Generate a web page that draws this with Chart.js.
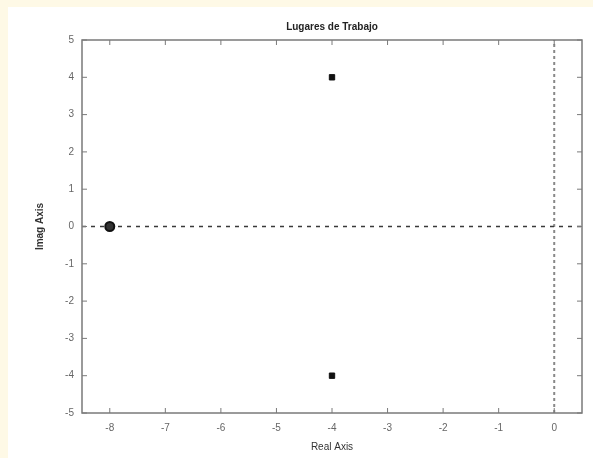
<!DOCTYPE html>
<html>
<head>
<meta charset="utf-8">
<script src="https://cdn.jsdelivr.net/npm/chart.js@4.4.1/dist/chart.umd.min.js"></script>
<style>
    html, body { margin: 0; padding: 0; background: #fef9e6; }
    #marco { position: absolute; left: 8px; top: 7px; width: 585px; height: 451px; background: #ffffff; }
</style>
</head>
<body>
<div id="marco"><canvas id="lugares-chart" width="585" height="451"></canvas></div>
<script>
// limites de los ejes
var limitesReal = [-8.5, 0.5];
var limitesImag = [-5, 5];
var ticksReal = [-8, -7, -6, -5, -4, -3, -2, -1, 0];
var ticksImag = [-5, -4, -3, -2, -1, 0, 1, 2, 3, 4, 5];

// ceros y polos
var cerosReal = [-8];
var cerosImag = [0];
var polosReal = [-4, -4];
var polosImag = [4, -4];

function puntos(xs, ys) {
    var res = [];
    for (var i = 0; i < xs.length; i++) {
        res.push({ x: xs[i], y: ys[i] });
    }
    return res;
}

// marcas de los ticks hacia adentro y el recuadro (estilo matlab)
var marcoPlugin = {
    id: 'marcoPlugin',
    afterDraw: function (chart) {
        var ctx = chart.ctx;
        var area = chart.chartArea;
        var sx = chart.scales.x;
        var sy = chart.scales.y;
        ctx.save();
        ctx.strokeStyle = '#7a7a7a';
        ctx.lineWidth = 1.5;
        ctx.strokeRect(area.left, area.top, area.right - area.left, area.bottom - area.top);
        ctx.lineWidth = 1;
        ctx.beginPath();
        ticksReal.forEach(function (v) {
            var px = sx.getPixelForValue(v);
            ctx.moveTo(px, area.bottom);
            ctx.lineTo(px, area.bottom - 5);
            ctx.moveTo(px, area.top);
            ctx.lineTo(px, area.top + 5);
        });
        ticksImag.forEach(function (v) {
            var py = sy.getPixelForValue(v);
            ctx.moveTo(area.left, py);
            ctx.lineTo(area.left + 5, py);
            ctx.moveTo(area.right, py);
            ctx.lineTo(area.right - 5, py);
        });
        ctx.stroke();
        ctx.restore();
    }
};

var lugaresChart = new Chart(document.getElementById('lugares-chart').getContext('2d'), {
    type: 'scatter',
    data: {
        datasets: [
            {
                label: 'Polos',
                data: puntos(polosReal, polosImag),
                pointStyle: 'rect',
                pointRadius: 3.8,
                backgroundColor: '#111111',
                borderColor: '#111111',
                borderWidth: 1
            },
            {
                label: 'Ceros',
                data: puntos(cerosReal, cerosImag),
                pointStyle: 'circle',
                pointRadius: 4.5,
                backgroundColor: '#333333',
                borderColor: '#111111',
                borderWidth: 2
            },
            {
                label: 'Eje real',
                data: puntos(limitesReal, [0, 0]),
                showLine: true,
                pointRadius: 0,
                borderColor: '#3a3a3a',
                borderWidth: 1.5,
                borderDash: [4, 5]
            },
            {
                label: 'Eje imaginario',
                data: puntos([0, 0], limitesImag),
                showLine: true,
                pointRadius: 0,
                borderColor: '#888888',
                borderWidth: 2,
                borderDash: [3, 3]
            }
        ]
    },
    options: {
        responsive: false,
        animation: false,
        events: [],
        layout: { padding: { left: 0, right: 11, top: 0, bottom: 0 } },
        plugins: {
            legend: { display: false },
            tooltip: { enabled: false },
            title: {
                display: true,
                fullSize: false,
                text: 'Lugares de Trabajo',
                color: '#222222',
                font: { family: 'Liberation Sans, Arial, sans-serif', size: 10 },
                padding: { top: 14, bottom: 7 }
            }
        },
        scales: {
            x: {
                type: 'linear',
                min: limitesReal[0],
                max: limitesReal[1],
                afterBuildTicks: function (scale) {
                    scale.ticks = ticksReal.map(function (v) { return { value: v }; });
                },
                afterFit: function (scale) { scale.height = 45; },
                grid: { display: true, drawOnChartArea: false, drawTicks: false },
                border: { display: false },
                ticks: {
                    padding: 9,
                    color: '#666666',
                    font: { family: 'Liberation Sans, Arial, sans-serif', size: 10 },
                    maxRotation: 0
                },
                title: {
                    display: true,
                    text: 'Real Axis',
                    color: '#333333',
                    font: { family: 'Liberation Sans, Arial, sans-serif', size: 10 },
                    padding: { top: 0, bottom: 5 }
                }
            },
            y: {
                type: 'linear',
                min: limitesImag[0],
                max: limitesImag[1],
                afterBuildTicks: function (scale) {
                    scale.ticks = ticksImag.map(function (v) { return { value: v }; });
                },
                afterFit: function (scale) { scale.width = 74; },
                grid: { display: true, drawOnChartArea: false, drawTicks: false },
                border: { display: false },
                ticks: {
                    padding: 8,
                    color: '#666666',
                    font: { family: 'Liberation Sans, Arial, sans-serif', size: 10 }
                },
                title: {
                    display: true,
                    text: 'Imag Axis',
                    color: '#333333',
                    font: { family: 'Liberation Sans, Arial, sans-serif', size: 10, weight: 'bold' },
                    padding: { top: 26, bottom: 0 }
                }
            }
        }
    },
    plugins: [marcoPlugin]
});
</script>
</body>
</html>
